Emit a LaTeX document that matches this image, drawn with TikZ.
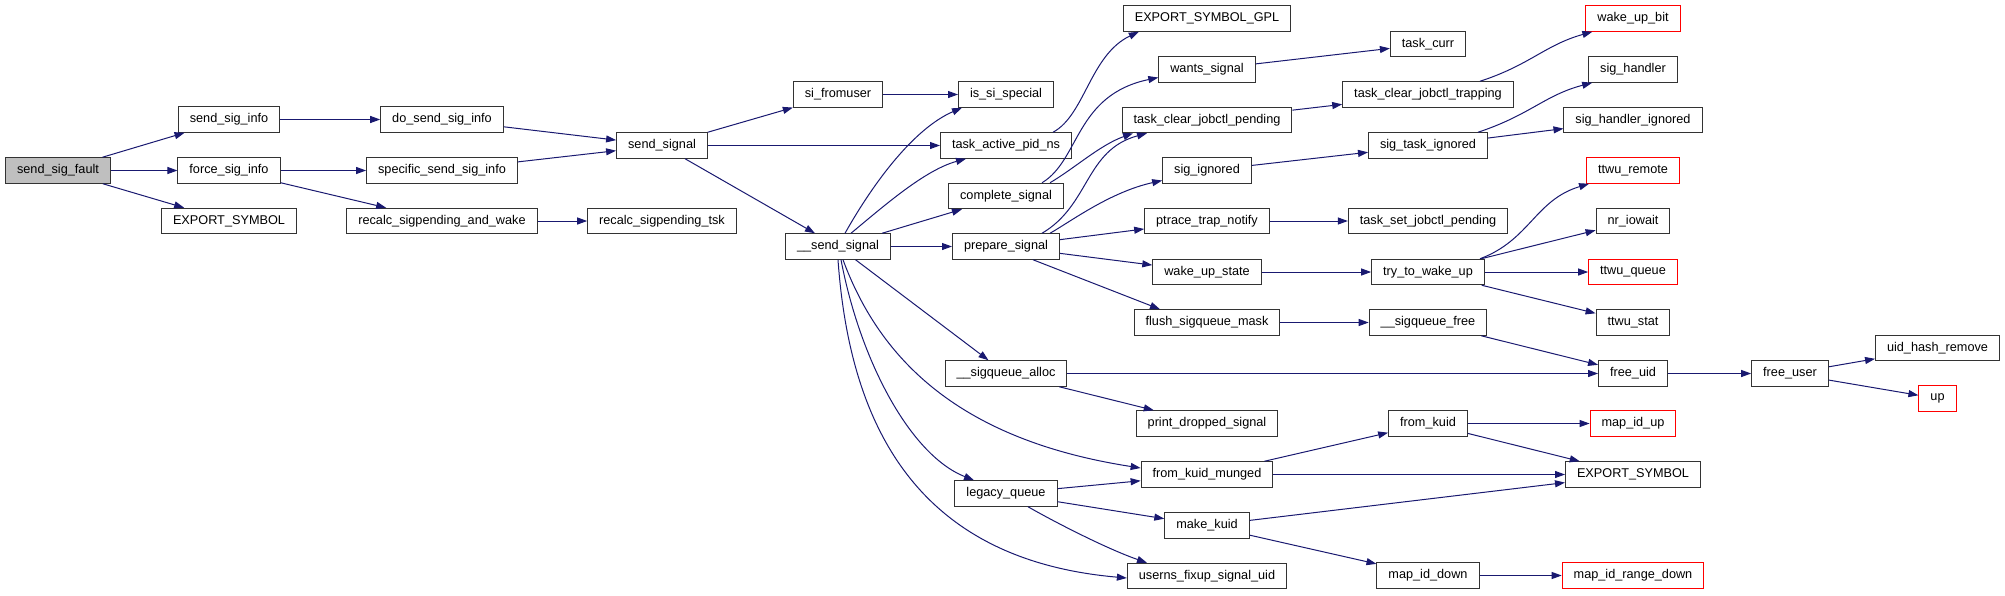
\documentclass[tikz,border=0pt]{standalone}
\usepackage{fontspec}
\setmainfont{Liberation Sans}
\usetikzlibrary{arrows.meta}
\definecolor{edgeblue}{HTML}{191970}

\begin{document}
\begin{tikzpicture}[x=1pt, y=-1pt,
    fn/.style={draw=black!80, line width=1pt, minimum height=25.5pt, inner xsep=11.5pt, inner ysep=0pt,
      font=\fontsize{12.7}{15}\selectfont},
    root/.style={fn, fill=black!25},
    ext/.style={fn, draw=red},
    call/.style={draw=edgeblue, line width=1pt, -{Triangle[length=10pt, width=7pt]}}]
    \useasboundingbox (0,0) rectangle (2005,595);
    % call graph: one column per call depth, positions in pixels of the reference
    \node[root] (sendsigfault) at (58,170.5) {send\_sig\_fault};
    \foreach \n/\x/\y/\t in {
      sendsiginfo/229/119.5/send\_sig\_info, forcesiginfo/229/170.5/force\_sig\_info,
      exportsyma/229/221/EXPORT\_SYMBOL,
      dosendsiginfo/442/119.5/do\_send\_sig\_info, specsendsiginfo/442/170.5/specific\_send\_sig\_info,
      recalcwake/442/221/recalc\_sigpending\_and\_wake,
      sendsignal/662/145.5/send\_signal, recalctsk/662/221/recalc\_sigpending\_tsk,
      sifromuser/838/94.5/si\_fromuser, ssendsignal/838/246.5/\_\_send\_signal,
      issispecial/1006/94.5/is\_si\_special, taskpidns/1006/145.5/task\_active\_pid\_ns,
      completesig/1006/196/complete\_signal, prepsig/1006/246.5/prepare\_signal,
      sqalloc/1006/373.5/\_\_sigqueue\_alloc, legacyq/1006/493.5/legacy\_queue,
      exportgpl/1207/18.5/EXPORT\_SYMBOL\_GPL, wantssig/1207/69.5/wants\_signal,
      clrpending/1207/120/task\_clear\_jobctl\_pending, sigignored/1207/170.5/sig\_ignored,
      ptracetrap/1207/221/ptrace\_trap\_notify, wakeupstate/1207/272/wake\_up\_state,
      flushsq/1207/322.5/flush\_sigqueue\_mask, printdropped/1207/423.5/print\_dropped\_signal,
      fromkuidm/1207/474.5/from\_kuid\_munged, makekuid/1207/525.5/make\_kuid,
      userns/1207/576/userns\_fixup\_signal\_uid,
      taskcurr/1428/44/task\_curr, clrtrapping/1428/94.5/task\_clear\_jobctl\_trapping,
      sigtaskign/1428/145.5/sig\_task\_ignored, setpending/1428/221/task\_set\_jobctl\_pending,
      trytowake/1428/272/try\_to\_wake\_up, sqfree/1428/322.5/\_\_sigqueue\_free,
      fromkuid/1428/423.5/from\_kuid, mapiddown/1428/575.5/map\_id\_down,
      sighandler/1633/69.5/sig\_handler, sighandlerign/1633/120/sig\_handler\_ignored,
      nriowait/1633/221/nr\_iowait, ttwustat/1633/322.5/ttwu\_stat,
      freeuid/1633/373.5/free\_uid, exportsymb/1633/474.5/EXPORT\_SYMBOL,
      freeuser/1790/373.5/free\_user, uidhash/1937.5/348/uid\_hash\_remove}
      \node[fn] (\n) at (\x,\y) {\t};
    % functions drawn with a red frame
    \foreach \n/\x/\y/\t in {
      wakeupbit/1633/18.5/wake\_up\_bit, ttwuremote/1633/170.5/ttwu\_remote,
      ttwuqueue/1633/272/ttwu\_queue, mapidup/1633/423.5/map\_id\_up,
      maprangedown/1633/575.5/map\_id\_range\_down, up/1937.5/398.5/up}
      \node[ext] (\n) at (\x,\y) {\t};
    % straight calls
    \foreach \a/\b in {sendsigfault/sendsiginfo, sendsigfault/forcesiginfo, sendsigfault/exportsyma,
      sendsiginfo/dosendsiginfo, forcesiginfo/specsendsiginfo, forcesiginfo/recalcwake,
      dosendsiginfo/sendsignal, specsendsiginfo/sendsignal, recalcwake/recalctsk,
      sendsignal/sifromuser, sendsignal/taskpidns, sendsignal/ssendsignal,
      sifromuser/issispecial, ssendsignal/completesig, ssendsignal/prepsig, ssendsignal/sqalloc,
      prepsig/ptracetrap, prepsig/wakeupstate,
      wantssig/taskcurr, clrpending/clrtrapping, sigignored/sigtaskign, sigtaskign/sighandlerign,
      ptracetrap/setpending, wakeupstate/trytowake,
      trytowake/nriowait, trytowake/ttwuqueue, trytowake/ttwustat,
      flushsq/sqfree, sqfree/freeuid, sqalloc/freeuid, sqalloc/printdropped,
      freeuid/freeuser, freeuser/uidhash, freeuser/up,
      fromkuidm/fromkuid, fromkuidm/exportsymb, fromkuid/mapidup, fromkuid/exportsymb,
      legacyq/fromkuidm, legacyq/makekuid,
      makekuid/exportsymb, makekuid/mapiddown, mapiddown/maprangedown}
      \draw[call] (\a) -- (\b);
    % __send_signal: bent calls up and down
    \draw[call] ([xshift=7pt]ssendsignal.north) .. controls (875,180) and (915,128) .. ([xshift=4pt]issispecial.south west);
    \draw[call] ([xshift=13pt]ssendsignal.north) .. controls (885,205) and (925,170) .. ([xshift=-40pt]taskpidns.south);
    \draw[call] ([xshift=5pt]ssendsignal.south) .. controls (880,360) and (960,440) .. ([yshift=6.5pt]fromkuidm.west);
    \draw[call] ([xshift=3pt]ssendsignal.south) .. controls (860,360) and (910,455) .. ([xshift=-32pt]legacyq.north);
    \draw[call] (ssendsignal.south) .. controls (850,430) and (920,560) .. ([yshift=-2pt]userns.west);
    % column five into column six
    \draw[call] ([xshift=47pt]taskpidns.north) .. controls (1085,115) and (1090,55) .. ([xshift=16pt]exportgpl.south west);
    \draw[call] ([xshift=36pt]completesig.north) .. controls (1080,160) and (1075,95) .. ([yshift=-8pt]wantssig.west);
    \draw[call] ([xshift=44pt]completesig.north) .. controls (1075,168) and (1100,145) .. ([xshift=-74pt]clrpending.south);
    \draw[call] ([xshift=36pt]prepsig.north) .. controls (1090,205) and (1085,150) .. ([xshift=-60pt]clrpending.south);
    \draw[call] ([xshift=44pt]prepsig.north) .. controls (1070,222) and (1110,192) .. ([yshift=-10pt]sigignored.west);
    \draw[call] ([xshift=27pt]prepsig.south) -- ([xshift=-47pt]flushsq.north);
    % column seven into column eight
    \draw[call] ([xshift=52pt]clrtrapping.north) .. controls (1530,65) and (1545,45) .. ([xshift=7pt]wakeupbit.south west);
    \draw[call] ([xshift=50pt]sigtaskign.north) .. controls (1530,115) and (1545,95) .. ([xshift=4pt]sighandler.south west);
    \draw[call] ([xshift=52pt]trytowake.north) .. controls (1530,240) and (1535,200) .. ([xshift=3pt]ttwuremote.south west);
    \draw[call] ([xshift=22pt]legacyq.south) .. controls (1060,525) and (1110,550) .. ([xshift=-60pt]userns.north);
\end{tikzpicture}
\end{document}
